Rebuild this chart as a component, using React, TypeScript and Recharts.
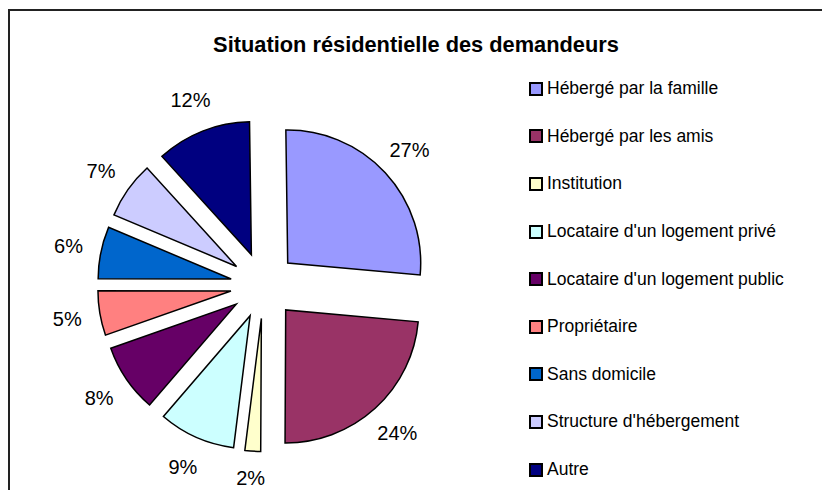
import { Legend, Pie, PieChart, Sector } from "recharts";

const CATEGORIES = [
  "Hébergé par la famille",
  "Hébergé par les amis",
  "Institution",
  "Locataire d'un logement privé",
  "Locataire d'un logement public",
  "Propriétaire",
  "Sans domicile",
  "Structure d'hébergement",
  "Autre",
];

// shares; labels show them rounded
const SHARES = [26.6, 23.6, 1.9, 9.3, 8.3, 5.4, 6.3, 6.9, 11.5];

const COLORS = [
  "#9999ff",
  "#993366",
  "#ffffcc",
  "#ccffff",
  "#660066",
  "#ff8080",
  "#0066cc",
  "#ccccff",
  "#000080",
];

const TITLE = "Situation résidentielle des demandeurs";

const FONT = "'Liberation Sans', Arial, sans-serif";
const RADIAN = Math.PI / 180;
const EXPLODE = 33;

const data = CATEGORIES.map((name, i) => ({
  name,
  value: SHARES[i],
  fill: COLORS[i],
}));

// each slice pushed outwards along its mid angle, like an exploded Excel pie
function ExplodedSector(props: any) {
  const { cx, cy, midAngle, innerRadius, outerRadius, startAngle, endAngle, fill } = props;
  const dx = EXPLODE * Math.cos(-midAngle * RADIAN);
  const dy = EXPLODE * Math.sin(-midAngle * RADIAN);
  return (
    <Sector
      cx={cx + dx}
      cy={cy + dy}
      innerRadius={innerRadius}
      outerRadius={outerRadius}
      startAngle={startAngle}
      endAngle={endAngle}
      fill={fill}
      stroke="#000"
      strokeWidth={1.5}
    />
  );
}

function renderLabel(props: any) {
  const { cx, cy, midAngle, outerRadius, percent } = props;
  const r = outerRadius + EXPLODE + 33;
  const x = cx + r * Math.cos(-midAngle * RADIAN);
  // keep the bottom label inside the frame
  const y = Math.min(cy + r * Math.sin(-midAngle * RADIAN), 478);
  return (
    <text
      x={x}
      y={y}
      textAnchor="middle"
      dominantBaseline="central"
      fontSize={20}
      fontFamily={FONT}
      fill="#000"
    >
      {`${Math.round(percent * 100)}%`}
    </text>
  );
}

function LegendList() {
  return (
    <div style={{ fontFamily: FONT, fontSize: 17.5, color: "#000" }}>
      {CATEGORIES.map((name, i) => (
        <div
          key={name}
          style={{ display: "flex", alignItems: "center", height: 47.6, whiteSpace: "nowrap" }}
        >
          <span
            style={{
              width: 10,
              height: 10,
              background: COLORS[i],
              border: "2px solid #000",
              marginRight: 4,
              flexShrink: 0,
            }}
          />
          {name}
        </div>
      ))}
    </div>
  );
}

export default function App() {
  return (
    <div
      style={{
        position: "absolute",
        left: 0,
        top: 0,
        width: 822,
        height: 490,
        background: "#fff",
        overflow: "hidden",
      }}
    >
      <div
        style={{
          position: "absolute",
          left: 8,
          top: 9,
          width: 830,
          height: 500,
          borderLeft: "2px solid #222",
          borderTop: "2px solid #222",
        }}
      />
      <div
        style={{
          position: "absolute",
          left: 0,
          top: 34,
          width: 832,
          textAlign: "center",
          fontFamily: FONT,
          fontWeight: "bold",
          fontSize: 21.8,
          lineHeight: "22px",
          color: "#000",
        }}
      >
        {TITLE}
      </div>
      <div style={{ position: "absolute", left: 0, top: 0 }}>
        <PieChart width={822} height={490} margin={{ top: 0, right: 0, bottom: 0, left: 0 }}>
          <Pie
            data={data}
            dataKey="value"
            nameKey="name"
            cx={263.5}
            cy={285.5}
            innerRadius={0}
            outerRadius={133}
            startAngle={90.8}
            endAngle={-269.2}
            shape={ExplodedSector}
            label={renderLabel}
            labelLine={false}
            isAnimationActive={false}
          />
          <Legend
            layout="vertical"
            verticalAlign="top"
            align="right"
            wrapperStyle={{ left: 529, top: 65, width: 290 }}
            content={() => <LegendList />}
          />
        </PieChart>
      </div>
    </div>
  );
}
